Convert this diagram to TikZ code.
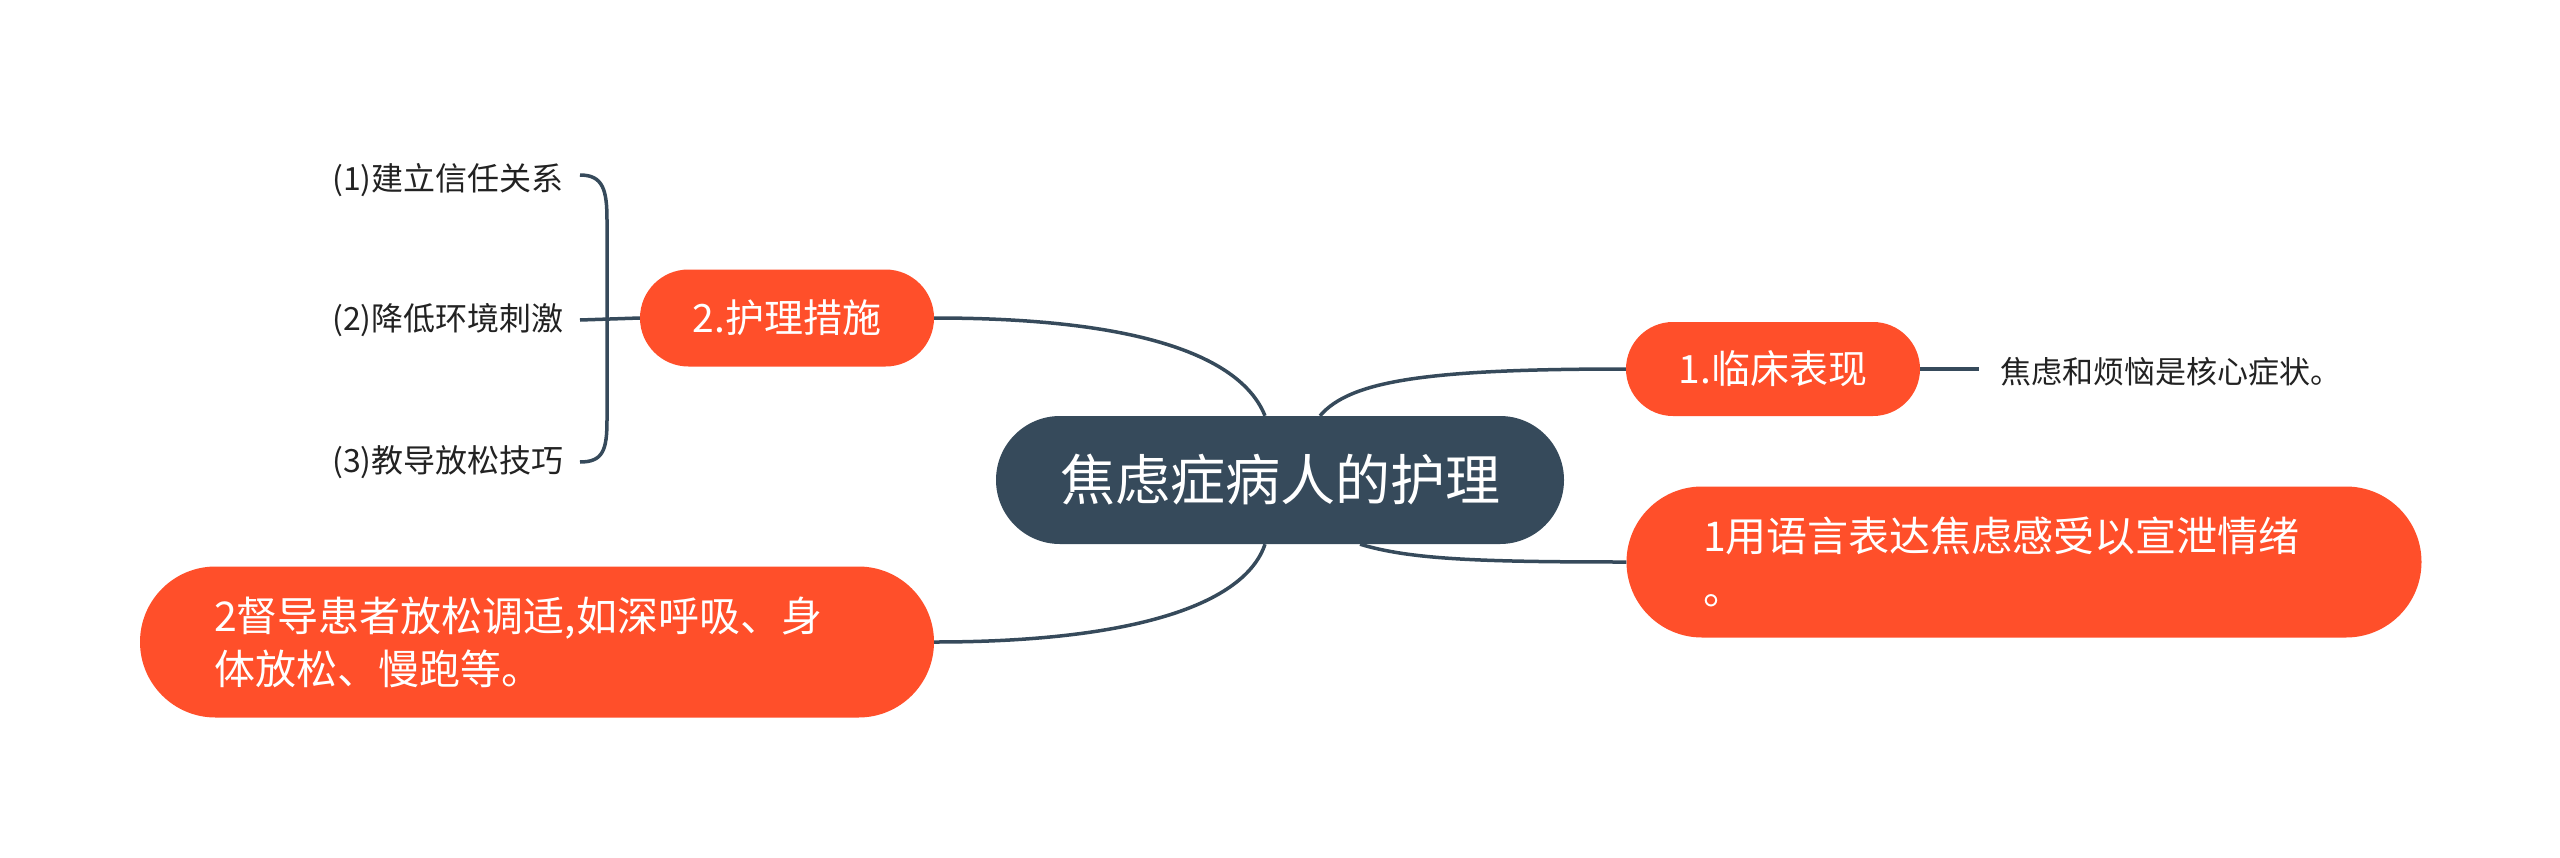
\documentclass[tikz,border=0pt]{standalone}
\usepackage{fontspec}
\setmainfont{Noto Sans CJK SC}
\usetikzlibrary{shapes.misc}
\definecolor{orangec}{HTML}{FF4F2A}
\definecolor{darkc}{HTML}{364A5B}
\definecolor{leaftext}{HTML}{222222}
\begin{document}
\begin{tikzpicture}[x=1pt,y=-1pt,
  pill/.style={rounded rectangle, fill=orangec, text=white, inner sep=0pt},
  conn/.style={draw=darkc, line width=3.5pt},
  leaf/.style={text=leaftext, font=\fontsize{31}{37}\selectfont, inner sep=0pt}]
\useasboundingbox (0,0) rectangle (2560,857);
\fill[white] (0,0) rectangle (2560,857);
% nodes
\node[pill, fill=darkc, minimum width=568, minimum height=128,
      font=\fontsize{55}{66}\selectfont] (c) at (1280,480) {焦虑症病人的护理};
\node[pill, minimum width=294, minimum height=97,
      font=\fontsize{39}{46}\selectfont] (p) at (787,318) {2.护理措施};
\node[pill, minimum width=294, minimum height=94,
      font=\fontsize{39}{46}\selectfont] (q) at (1773,369) {1.临床表现};
\node[pill, minimum width=795, minimum height=151, align=left, text width=642,
      font=\fontsize{41}{53}\selectfont] (r) at (2024,562) {1用语言表达焦虑感受以宣泄情绪\\。};
\node[pill, minimum width=794, minimum height=151, align=left, text width=646,
      font=\fontsize{41}{53}\selectfont] (s) at (537,642) {2督导患者放松调适,如深呼吸、身\\体放松、慢跑等。};
% leaves
\node[leaf, anchor=west] (t) at (2000,372) {焦虑和烦恼是核心症状。};
\node[leaf, anchor=east, font=\fontsize{32}{38}\selectfont] (l1) at (564,180) {(1)建立信任关系};
\node[leaf, anchor=east, font=\fontsize{32}{38}\selectfont] (l2) at (564,320) {(2)降低环境刺激};
\node[leaf, anchor=east, font=\fontsize{32}{38}\selectfont] (l3) at (564,462) {(3)教导放松技巧};
% connectors
\draw[conn] (p.east) .. controls +(230,0) and +(-20,-50) .. ([xshift=-15]c.north);
\draw[conn] ([xshift=40]c.north) .. controls +(30,-35) and +(-200,0) .. (q.west);
\draw[conn] ([xshift=80]c.south) .. controls +(50,15) and +(-150,0) .. (r.west);
\draw[conn] ([xshift=-15]c.south) .. controls +(-20,60) and +(200,0) .. (s.east);
\coordinate (te) at (1979,369);
\draw[conn] (q.east) -- (te);
% bracket
\coordinate (bt) at (580,175);
\coordinate (bb) at (580,462);
\draw[conn] (bt) .. controls (603,175) and (607,190) .. (607,220) -- (607,420) .. controls (607,450) and (603,462) .. (bb);
\draw[conn] ([xshift=16]l2.east) -- (p.west);
\end{tikzpicture}
\end{document}
